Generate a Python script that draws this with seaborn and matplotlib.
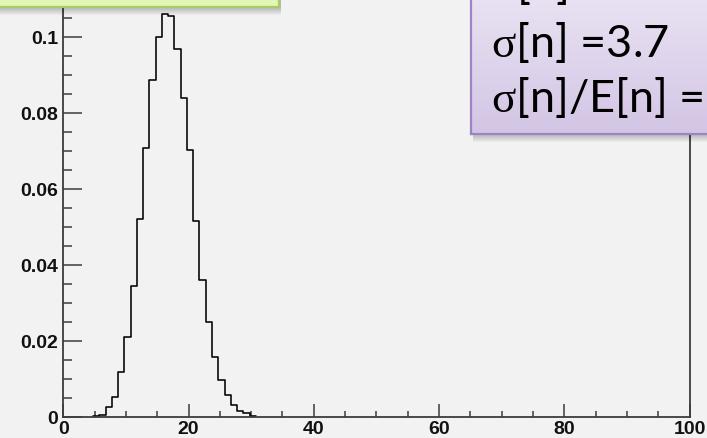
import numpy as np
import pandas as pd
import matplotlib
matplotlib.use("Agg")
import matplotlib.pyplot as plt
import seaborn as sns
from matplotlib.patches import Rectangle
from matplotlib.ticker import MultipleLocator
from matplotlib.colors import LinearSegmentedColormap
from matplotlib.transforms import ScaledTranslation

# ---------------- data ----------------
n_values = [5, 6, 7, 8, 9, 10, 11, 12, 13, 14, 15, 16, 17, 18, 19, 20,
            21, 22, 23, 24, 25, 26, 27, 28, 29, 30]
probabilities = [0.0002, 0.0005, 0.0026, 0.0053, 0.0118, 0.0210, 0.0345,
                 0.0520, 0.0707, 0.0886, 0.0999, 0.1060, 0.1055, 0.0968,
                 0.0838, 0.0701, 0.0516, 0.0361, 0.0249, 0.0158, 0.0096,
                 0.0056, 0.0032, 0.0014, 0.0009, 0.0003]
x_ticks = [0, 20, 40, 60, 80, 100]
x_tick_labels = ["0", "20", "40", "60", "80", "100"]
y_ticks = [0, 0.02, 0.04, 0.06, 0.08, 0.1]
y_tick_labels = ["0", "0.02", "0.04", "0.06", "0.08", "0.1"]
box_lines = ["E[n] =", "$\\sigma$[n] =3.7", "$\\sigma$[n]/E[n] ="]

# ---------------- style ----------------
sns.set_style("ticks")
plt.rcParams["font.family"] = ["Liberation Sans", "DejaVu Sans"]
plt.rcParams["mathtext.fontset"] = "custom"
plt.rcParams["mathtext.it"] = "Liberation Serif"
plt.rcParams["mathtext.rm"] = "Lato"
plt.rcParams["mathtext.default"] = "it"

BG = "#f2f2f2"
AX_COL = "#3c3c3c"
W, H = 707, 439

fig = plt.figure(figsize=(W / 100, H / 100), dpi=100, facecolor=BG)

x0_px, x1_px, y0_px = 63.3, 689.5, 417.7
ax = fig.add_axes([x0_px / W, 1 - y0_px / H, (x1_px - x0_px) / W, y0_px / H])
ax.set_facecolor(BG)

df = pd.DataFrame({"n": n_values, "p": probabilities})
edges = [float(v) - 0.25 for v in n_values + [n_values[-1] + 1]]
sns.histplot(data=df, x="n", weights="p", bins=edges, element="step",
             fill=False, color="black", linewidth=1.15, ax=ax)

ax.set_xlim(0, 100)
ax.set_ylim(0, y0_px / 3800.0)
ax.set_xlabel("")
ax.set_ylabel("")
ax.set_xticks(x_ticks)
ax.set_xticklabels(x_tick_labels)
ax.set_yticks(y_ticks)
ax.set_yticklabels(y_tick_labels)
ax.xaxis.set_minor_locator(MultipleLocator(5))
ax.yaxis.set_minor_locator(MultipleLocator(0.005))
for lab in ax.get_xticklabels() + ax.get_yticklabels():
    lab.set_fontweight("bold")
    lab.set_fontsize(14)
    lab.set_color("#111111")
# ROOT draws y labels slightly below their ticks
down = ScaledTranslation(0, -3 / 100, fig.dpi_scale_trans)
for lab in ax.get_yticklabels():
    lab.set_transform(lab.get_transform() + down)

ax.tick_params(axis="x", which="major", direction="in", length=9.2, width=1.1,
               color=AX_COL, pad=2.6)
ax.tick_params(axis="x", which="minor", direction="in", length=4.0, width=1.1,
               color=AX_COL)
ax.tick_params(axis="y", which="major", direction="in", length=13.5, width=1.1,
               color=AX_COL, pad=3.6)
ax.tick_params(axis="y", which="minor", direction="in", length=6.7, width=1.1,
               color=AX_COL)
ax.spines["top"].set_visible(False)
for s in ["left", "bottom", "right"]:
    ax.spines[s].set_color(AX_COL)
    ax.spines[s].set_linewidth(1.3)


def shadow(x_px, y_px, w_px, h_px):
    # soft drop shadow below a box (pixel coords from top-left)
    for i in range(1, 9):
        fig.patches.append(Rectangle(((x_px + 2) / W, 1 - (y_px + h_px + i) / H),
                                     w_px / W, (h_px + i) / H,
                                     transform=fig.transFigure, facecolor="black",
                                     edgecolor="none", alpha=0.032, zorder=5))


# ---------------- green box (top-left) ----------------
shadow(-5, -10, 284, 17.5)
fig.patches.append(Rectangle((-5 / W, 1 - 7.5 / H), 284 / W, 30 / H,
                             transform=fig.transFigure, facecolor="#e1f6b6",
                             edgecolor="#a6cc64", linewidth=1.6, zorder=6))

# ---------------- purple box (top-right) ----------------
px0, py1 = 470.7, 135.0
shadow(px0, -20, W - px0 + 20, py1 + 20)
bax = fig.add_axes([px0 / W, 1 - py1 / H, (W - px0 + 20) / W, (py1 + 20) / H],
                   zorder=7)
cmap = LinearSegmentedColormap.from_list("lav", ["#d3c5e5", "#ece6f4"])
grad = np.linspace(0, 1, 256).reshape(-1, 1)
bax.imshow(grad, aspect="auto", cmap=cmap, origin="lower", extent=[0, 1, 0, 1])
bax.set_xticks([])
bax.set_yticks([])
for s in bax.spines.values():
    s.set_color("#9c84c4")
    s.set_linewidth(1.6)

baselines = [-1.0, 57.0, 112.0]
for txt, yb in zip(box_lines, baselines):
    fig.text(490.7 / W, 1 - yb / H, txt, fontsize=32.5, family=["Lato", "DejaVu Sans"],
             color="black", ha="left", va="baseline", zorder=8)

fig.savefig("out.png", dpi=100, facecolor=BG)
